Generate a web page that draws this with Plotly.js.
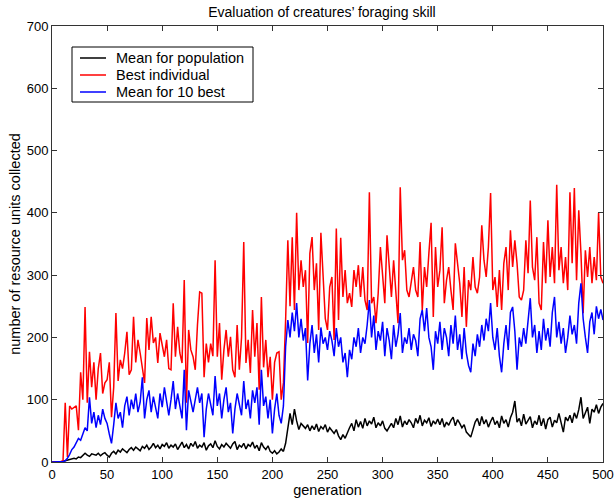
<!DOCTYPE html>
<html>
<head>
<meta charset="utf-8">
<script src="https://cdn.plot.ly/plotly-3.0.1.min.js"></script>
<style>html,body{margin:0;padding:0;background:#fff;}#chart{width:616px;height:499px;}</style>
</head>
<body>
<div id="chart"></div>
<script>
// Generations sampled every 2 steps: 0, 2, 4, ..., 500
var GEN_STEP = 2;

var meanPopulation = [
0,0,0,0,0,1,2,3,4,5,6,5,8,7,10,14,11,9,13,12,11,14,10,13,15,11,8,14,17,13,
19,16,21,18,15,20,23,19,24,21,18,25,22,27,20,24,30,23,27,21,28,25,31,22,27,24,29,20,26,32,
23,28,21,30,25,33,22,27,24,31,19,26,29,23,34,25,21,28,24,30,26,22,29,33,20,27,24,30,21,28,
25,32,22,27,18,31,24,20,26,17,14,18,13,16,21,17,30,55,78,60,85,66,52,62,57,54,60,50,58,52,
61,49,57,53,60,48,55,50,46,52,42,36,44,38,48,55,62,50,68,56,65,54,70,58,66,61,72,55,63,58,
66,54,50,57,62,55,70,60,74,56,66,60,68,63,55,70,62,75,58,67,63,71,57,66,61,69,60,70,56,64,
59,67,72,58,68,62,55,60,48,44,40,52,64,70,58,73,61,68,56,65,72,60,66,55,74,62,68,56,71,80,
98,64,70,58,77,61,68,73,55,66,60,75,58,70,53,68,72,56,67,63,78,60,48,72,66,75,63,79,70,84,
104,70,78,88,62,85,80,92,78,88,94
];

var bestIndividual = [
0,0,1,0,1,2,95,8,90,85,88,90,51,144,100,249,95,177,120,160,100,150,175,110,127,132,160,72,120,239,
130,164,150,175,209,140,148,233,160,196,175,152,127,231,180,233,191,200,159,207,185,169,196,150,148,255,169,217,175,159,
292,95,212,180,169,148,220,273,271,136,190,160,190,170,324,169,223,132,180,212,169,201,148,136,220,148,200,353,159,196,
143,244,169,223,116,265,152,196,136,169,100,160,175,177,100,127,228,356,250,361,244,400,276,324,281,308,191,335,361,276,
319,212,368,303,230,212,281,297,196,375,228,360,265,308,255,271,249,308,281,316,265,313,260,244,433,255,265,223,271,345,
303,255,364,308,265,324,276,223,441,324,340,276,265,287,313,276,265,353,244,313,281,335,384,233,345,281,308,377,255,292,
313,276,244,351,313,287,233,313,217,292,276,329,281,271,297,380,324,297,345,432,276,297,249,308,244,319,345,276,372,313,
356,319,265,260,276,356,303,420,313,292,361,255,244,353,287,388,297,345,287,445,308,345,287,329,276,433,319,440,292,404,
335,239,340,297,345,287,329,292,400,297,287
];

var meanTenBest = [
0,0,0,0,0,1,2,6,12,20,24,30,38,35,46,55,50,104,62,80,55,75,60,85,70,62,45,30,60,95,
70,80,55,90,105,75,100,85,110,80,96,136,70,100,115,80,105,90,70,110,88,120,95,75,100,130,85,110,90,70,
148,51,115,95,80,100,120,95,110,40,85,110,95,75,138,90,110,70,100,120,80,95,46,85,110,90,75,130,85,100,
70,115,95,120,60,148,90,105,70,100,46,85,110,75,62,90,185,228,200,240,210,255,200,230,195,215,131,190,220,175,
205,160,216,190,200,180,210,195,170,215,185,200,160,175,136,180,165,200,185,215,175,200,190,220,260,200,235,180,210,195,
225,170,215,195,165,220,185,205,239,175,200,190,215,180,205,195,170,230,244,210,247,200,185,148,210,190,225,180,215,200,
170,220,190,235,180,205,165,215,175,155,144,190,170,205,185,220,195,230,210,255,200,180,215,170,144,190,220,180,240,249,
210,148,200,185,215,190,230,263,200,220,175,210,180,230,195,215,185,240,265,200,225,190,215,175,200,235,205,220,190,255,
287,230,200,175,225,240,205,250,230,245,228
];

var seriesNames = ['Mean for population', 'Best individual', 'Mean for 10 best'];
var seriesColors = ['#000000', '#ff0000', '#0000ff'];
var xTickVals = [0, 50, 100, 150, 200, 250, 300, 350, 400, 450, 500];
var yTickVals = [0, 100, 200, 300, 400, 500, 600, 700];

function gens(arr) { return arr.map(function (_, i) { return i * GEN_STEP; }); }

var FONT = '"Liberation Sans", Arial, Helvetica, sans-serif';
var seriesData = [meanPopulation, bestIndividual, meanTenBest];
var traces = seriesData.map(function (vals, k) {
  return {
    x: gens(vals), y: vals, type: 'scatter', mode: 'lines',
    name: seriesNames[k], showlegend: false,
    line: { color: seriesColors[k], width: 1.5 }
  };
});

// Plot area in pixels (for placing the boxed legend like the original figure)
var M = { l: 52, r: 13, t: 26, b: 37 }, W = 616, H = 499;
var PW = W - M.l - M.r, PH = H - M.t - M.b;
function px2x(p) { return (p - M.l) / PW; }
function px2y(p) { return (H - M.b - p) / PH; }

var legBox = { left: 72, right: 253, top: 47, bottom: 102 };
var legRow0 = 58, legRowGap = 17, legLine = [80, 106], legText = 114;

var shapes = [{
  type: 'rect', xref: 'paper', yref: 'paper',
  x0: px2x(legBox.left), x1: px2x(legBox.right), y0: px2y(legBox.bottom), y1: px2y(legBox.top),
  line: { color: '#000', width: 1 }, fillcolor: '#fff', layer: 'above'
}];
var annotations = [];
seriesNames.forEach(function (name, k) {
  var yy = px2y(legRow0 + k * legRowGap);
  shapes.push({ type: 'line', xref: 'paper', yref: 'paper', x0: px2x(legLine[0]), x1: px2x(legLine[1]),
    y0: yy, y1: yy, line: { color: seriesColors[k], width: 1.5 }, layer: 'above' });
  annotations.push({ xref: 'paper', yref: 'paper', x: px2x(legText), y: yy, xanchor: 'left', yanchor: 'middle',
    text: name, showarrow: false, font: { family: FONT, size: 14.5, color: '#000' } });
});

var axisCommon = {
  showgrid: false, zeroline: false, showline: true, linecolor: '#333', linewidth: 1,
  mirror: 'ticks', ticks: 'inside', ticklen: 5, tickcolor: '#333',
  tickfont: { family: FONT, size: 13, color: '#000' }
};

var layout = {
  width: W, height: H,
  margin: M,
  paper_bgcolor: '#fff', plot_bgcolor: '#fff',
  title: { text: 'Evaluation of creatures’ foraging skill', font: { family: FONT, size: 14, color: '#000' },
           x: 0.49, xref: 'paper', y: 1 - 12 / 499, yanchor: 'middle' },
  xaxis: Object.assign({}, axisCommon, {
    range: [0, 500], tickvals: xTickVals,
    title: { text: 'generation', font: { family: FONT, size: 14.5, color: '#000' }, standoff: 0 }
  }),
  yaxis: Object.assign({}, axisCommon, {
    range: [0, 700], tickvals: yTickVals,
    title: { text: 'number of resource units collected', font: { family: FONT, size: 14.5, color: '#000' }, standoff: 2 }
  }),
  showlegend: false,
  shapes: shapes,
  annotations: annotations
};

Plotly.newPlot('chart', traces, layout, { displayModeBar: false, staticPlot: true });
</script>
</body>
</html>
